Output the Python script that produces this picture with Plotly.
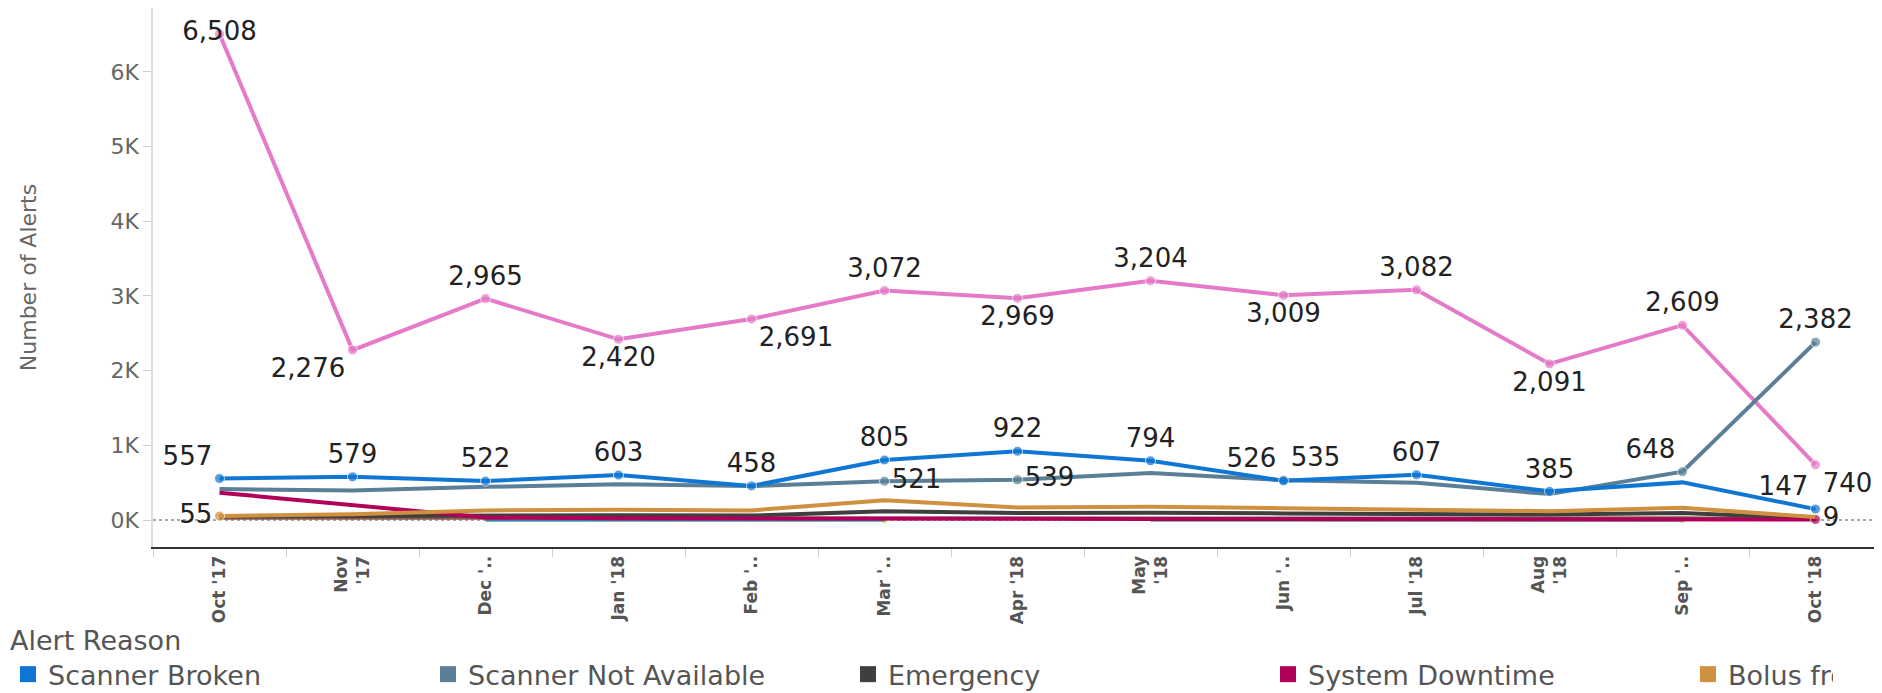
import plotly.graph_objects as go

# ---------------- data ----------------
months = ["Oct '17", "Nov '17", "Dec '17", "Jan '18", "Feb '18", "Mar '18", "Apr '18",
          "May '18", "Jun '18", "Jul '18", "Aug '18", "Sep '18", "Oct '18"]
tick_labels = ["Oct '17", "Nov<br>'17", "Dec '..", "Jan '18", "Feb '..", "Mar '..", "Apr '18",
               "May<br>'18", "Jun '..", "Jul '18", "Aug<br>'18", "Sep '..", "Oct '18"]

y_tick_vals = [0, 1000, 2000, 3000, 4000, 5000, 6000]
y_tick_text = ["0K", "1K", "2K", "3K", "4K", "5K", "6K"]

scanner_broken = [557, 579, 522, 603, 458, 805, 922, 794, 526, 607, 385, 505, 147]
scanner_not_available = [415, 395, 445, 480, 455, 521, 539, 630, 535, 500, 348, 648, 2382]
barcode_unreadable = [6508, 2276, 2965, 2420, 2691, 3072, 2969, 3204, 3009, 3082, 2091, 2609, 740]
emergency = [50, 55, 65, 65, 60, 120, 95, 100, 90, 80, 75, 95, 20]
system_downtime = [367, 200, 35, 25, 20, 20, 15, 15, 15, 15, 15, 15, 9]
bolus = [55, 80, 130, 140, 130, 265, 170, 180, 160, 135, 120, 165, 40]
patient_condition = [25, 25, 30, 30, 30, 32, 32, 32, 30, 30, 30, 30, 15]
wristband_missing = [None, None, 8, 8, 8, 8, None, 8, 8, 8, 8, 8, None]
other_reason = [None, None, 2, 2, 2, 2, None, 2, 2, 2, 2, 2, None]

# which points carry a value label
lab_broken = [1, 1, 1, 1, 1, 1, 1, 1, 1, 1, 1, 0, 1]
lab_na = [0, 0, 0, 0, 0, 1, 1, 0, 1, 0, 0, 1, 1]
lab_barcode = [1] * 13
lab_bolus = [1] + [0] * 12
lab_downtime = [0] * 12 + [1]
lab_none = [0] * 13
lab_other = [0, 0, 0, 0, 0, 1, 0, 0, 0, 0, 0, 1, 0]

# ---------------- style ----------------
FONT = "DejaVu Sans"
C_BROKEN = "#0f76d4"
C_NA = "#5a7f96"
C_EMERG = "#3f3f3f"
C_DOWN = "#b0005a"
C_BOLUS = "#cf9040"
C_PINK = "#e57ac8"
C_BROWN = "#8c5a4b"
C_LBLUE = "#2a7fc0"
C_YG = "#c3cd1e"

pos_broken = ["top left", "top center", "top center", "top center", "top center", "top center",
              "top center", "top center", "top left", "top center", "top center", "top center", "top left"]
pos_na = ["top center"] * 5 + ["middle right", "middle right", "top center", "top right",
                               "top center", "top center", "top left", "top center"]
pos_barcode = ["middle center", "bottom left", "top center", "bottom center", "bottom right",
               "top center", "bottom center", "top center", "bottom center", "top center",
               "bottom center", "top center", "bottom right"]
pos_bolus = ["middle left"] + ["top center"] * 12
pos_down = ["top center"] * 12 + ["middle right"]


def texts(vals, flags):
    return [f"{v:,}" if (f and v is not None) else "" for v, f in zip(vals, flags)]


def sizes(flags, s=10):
    return [s if f else 0 for f in flags]


fig = go.Figure()


def add_series(name, vals, flags, color, width, pos=None, msize=10):
    fig.add_trace(go.Scatter(
        x=months, y=vals, name=name, mode="lines+markers+text",
        line=dict(color=color, width=width),
        marker=dict(color=color, size=sizes(flags, msize)),
        text=texts(vals, flags) if pos is not None else None,
        textposition=pos if pos is not None else "top center",
        textfont=dict(family=FONT, size=26, color="#222222"),
        cliponaxis=False, showlegend=False, connectgaps=False,
        hovertemplate=name + ": %{y:,}<extra></extra>",
    ))


add_series("Barcode Unreadable", barcode_unreadable, lab_barcode, C_PINK, 4, pos_barcode)
add_series("Other", other_reason, lab_other, C_YG, 3, None, 7)
add_series("Wristband Missing", wristband_missing, lab_none, C_LBLUE, 4)
add_series("Patient Condition", patient_condition, lab_none, C_BROWN, 3)
add_series("Emergency", emergency, lab_none, C_EMERG, 4)
add_series("System Downtime", system_downtime, lab_downtime, C_DOWN, 4, pos_down)
add_series("Bolus from Existing Bag", bolus, lab_bolus, C_BOLUS, 4, pos_bolus)
add_series("Scanner Not Available", scanner_not_available, lab_na, C_NA, 4, pos_na)
add_series("Scanner Broken", scanner_broken, lab_broken, C_BROKEN, 4, pos_broken)

# legend entries (square swatches)
legend_items = [("Scanner Broken", C_BROKEN, None), ("Scanner Not Available", C_NA, None),
                ("Emergency", C_EMERG, None), ("System Downtime", C_DOWN, None),
                ("Bolus from Existing Bag", C_BOLUS, 100)]
for nm, col, lw in legend_items:
    kw = {}
    if lw is not None:
        kw["legendwidth"] = lw
    fig.add_trace(go.Scatter(x=[None], y=[None], mode="markers", name=nm,
                             marker=dict(symbol="square", size=16, color=col),
                             showlegend=True, hoverinfo="skip", **kw))

# dotted zero reference line
fig.add_shape(type="line", xref="paper", yref="y", x0=0, x1=1, y0=0, y1=0,
              line=dict(color="#8a8a8a", width=1.5, dash="dot"), layer="below")

# the page adds an 8px body margin, so the figure is 8px smaller each way
W, H = 1874, 685
ML, MR, MT, MB = 145, 0, 0, 146
pw = W - ML - MR
ph = H - MT - MB
legend_top = 607  # figure px

fig.update_layout(
    width=W, height=H,
    margin=dict(l=ML, r=MR, t=MT, b=MB, autoexpand=False),
    paper_bgcolor="white", plot_bgcolor="white",
    font=dict(family=FONT, color="#555555"),
    showlegend=True,
    legend=dict(
        orientation="h", x=-ML / pw, xanchor="left",
        y=(MT + ph - legend_top) / ph, yanchor="top",
        entrywidth=375, entrywidthmode="pixels",
        font=dict(family=FONT, size=27, color="#555555"),
        title=dict(text="Alert Reason", side="top", font=dict(family=FONT, size=27, color="#555555")),
        bgcolor="rgba(0,0,0,0)", traceorder="normal",
    ),
    xaxis=dict(
        type="category", categoryorder="array", categoryarray=months,
        tickmode="array", tickvals=months, ticktext=tick_labels,
        tickangle=-90, tickson="boundaries", ticks="outside", ticklen=8, tickcolor="#cccccc",
        tickfont=dict(family=FONT, size=17, color="#555555", weight="bold"),
        showline=True, linecolor="#333333", linewidth=2, mirror=True,
        showgrid=False, zeroline=False, range=[-0.5, 12.5], automargin=False,
    ),
    yaxis=dict(
        range=[-360, 6855], tickmode="array", tickvals=y_tick_vals, ticktext=y_tick_text,
        ticks="outside", ticklen=8, tickcolor="#cccccc",
        tickfont=dict(family=FONT, size=22, color="#666666"),
        showline=True, linecolor="#dddddd", linewidth=1.5, mirror=False,
        showgrid=False, zeroline=False, automargin=False,
        title=dict(text="Number of Alerts", standoff=68,
                   font=dict(family=FONT, size=22, color="#666666")),
    ),
)

fig.write_html("out.html")
